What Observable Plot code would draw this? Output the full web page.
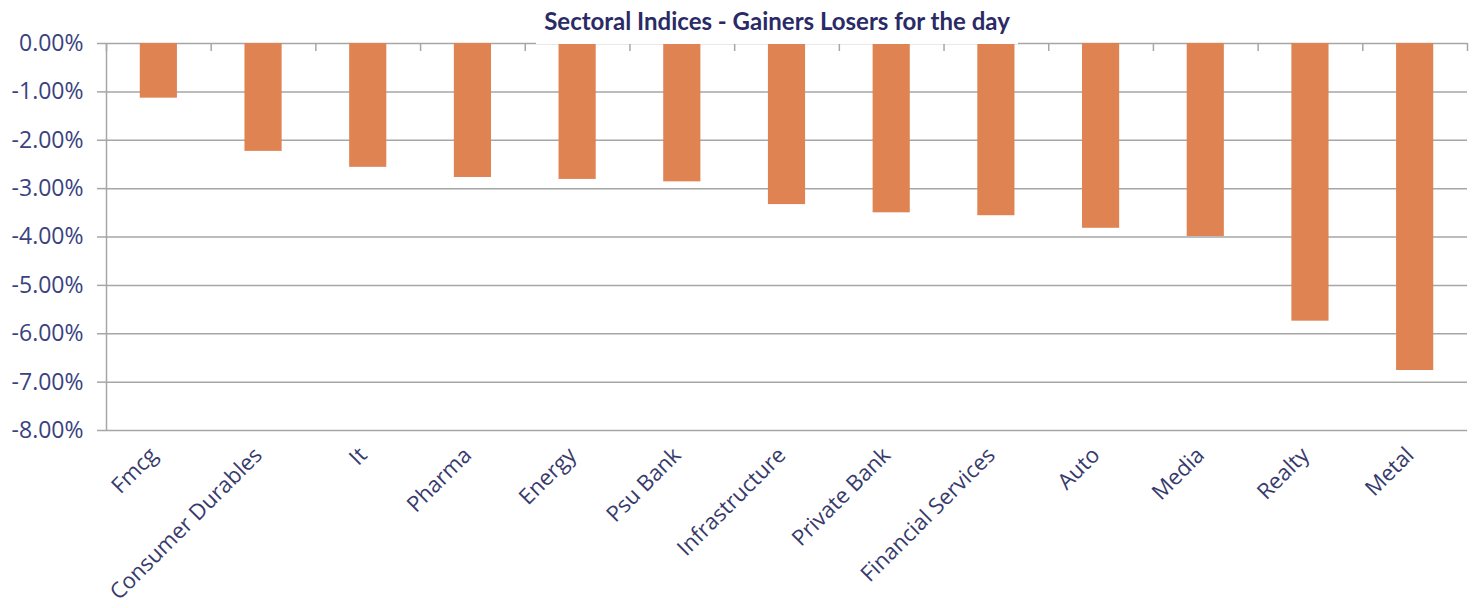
<!DOCTYPE html>
<html>
<head>
<meta charset="utf-8">
<script src="https://cdn.jsdelivr.net/npm/d3@7"></script>
<script src="https://cdn.jsdelivr.net/npm/@observablehq/plot@0.6"></script>
<style>
  html, body { margin: 0; padding: 0; background: #fff; }
  #wrap { position: relative; width: 1473px; height: 608px; }
  #titleBox { position: absolute; left: 536px; top: 0; width: 482px; height: 44px; background: #fff; }
  #title { position: absolute; left: 0; width: 1554px; top: 6px; text-align: center;
           font-family: Lato, sans-serif; font-weight: 700; font-size: 24px; color: #2a2a66; }
</style>
</head>
<body>
<div id="wrap">
  <div id="chart"></div>
  <div id="titleBox"></div>
  <div id="title">Sectoral Indices - Gainers Losers for the day</div>
</div>
<script>
const title = "Sectoral Indices - Gainers Losers for the day";
const categories = ["Fmcg", "Consumer Durables", "It", "Pharma", "Energy", "Psu Bank", "Infrastructure", "Private Bank", "Financial Services", "Auto", "Media", "Realty", "Metal"];
const values = [-1.13, -2.23, -2.56, -2.77, -2.81, -2.86, -3.33, -3.50, -3.56, -3.82, -3.99, -5.74, -6.76];
const yTicks = [0, -1, -2, -3, -4, -5, -6, -7, -8];

const data = categories.map((c, i) => ({sector: c, change: values[i]}));

const W = 1473, H = 608, mL = 106, mR = 6, mT = 43, mB = 178;
const step = (W - mL - mR) / categories.length;
const grid = "#a6a6a6";

const chart = Plot.plot({
  width: W, height: H,
  marginLeft: mL, marginRight: mR, marginTop: mT, marginBottom: mB,
  style: {background: "#fff", overflow: "visible", fontFamily: "'Open Sans', sans-serif"},
  x: {domain: categories, paddingInner: 0.645, paddingOuter: 0.3225, align: 0.5, round: false},
  y: {domain: [-8, 0]},
  marks: [
    Plot.ruleY(yTicks, {stroke: grid, strokeWidth: 1.5}),
    Plot.barY(data, {x: "sector", y: "change", fill: "#e08352"}),
    Plot.ruleX(categories, {x: d => d, y1: 0, y2: 0, insetBottom: -8, dx: -step / 2, stroke: grid, strokeWidth: 1.5}),
    Plot.ruleX([categories[categories.length - 1]], {x: d => d, y1: 0, y2: 0, insetBottom: -8, dx: step / 2, stroke: grid, strokeWidth: 1.5}),
    Plot.ruleX([categories[0]], {x: d => d, y1: -8, y2: 0, dx: -step / 2, stroke: grid, strokeWidth: 1.5}),
    Plot.axisY({ticks: yTicks, tickSize: 9, tickPadding: 14, stroke: grid, strokeWidth: 1.5,
      fill: "#3a4280", fontSize: 23, fontFamily: "'Open Sans'", tickFormat: d => d.toFixed(2) + "%", label: null}),
    Plot.axisX({tickSize: 0, tickRotate: -45, tickPadding: 21, dx: -5, fill: "#373a6c", fontSize: 22,
      fontFamily: "'Open Sans'", label: null})
  ]
});
document.getElementById("chart").appendChild(chart);
</script>
</body>
</html>
